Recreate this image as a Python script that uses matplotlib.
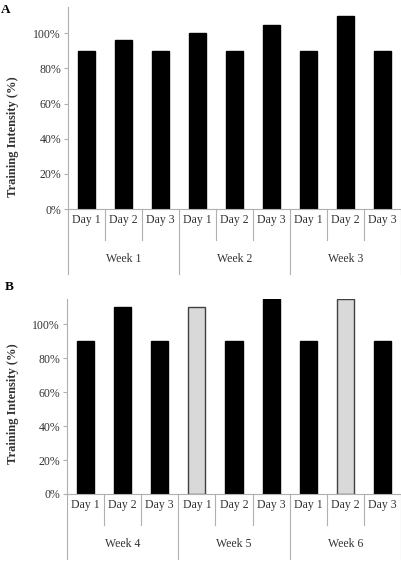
import numpy as np
import matplotlib
matplotlib.use('Agg')
import matplotlib.pyplot as plt

plt.rcParams['font.family'] = ['Liberation Serif', 'DejaVu Serif']

days = ['Day 1', 'Day 2', 'Day 3']
weeks_a = ['Week 1', 'Week 2', 'Week 3']
weeks_b = ['Week 4', 'Week 5', 'Week 6']
intensity_a = [90, 96, 90, 100, 90, 105, 90, 110, 90]
intensity_b = [90, 110, 90, 110, 90, 115, 90, 115, 90]
# days marked with light gray bars in panel B
highlight_b = [False, False, False, True, False, False, False, True, False]

W, H = 402, 566
fig = plt.figure(figsize=(W / 100, H / 100), dpi=100)
axis_gray = '#b0b0b0'
txt = '#333333'
fs = 8.5


def make_panel(left, zero_y, top_y, values, weeks, highlight, letter, letter_xy, label_y):
    width_px = W - 1 - left
    hpx = zero_y - top_y
    ax = fig.add_axes([left / W, 1 - zero_y / H, width_px / W, hpx / H])
    x = np.arange(len(values))
    colors = ['#d9d9d9' if h else 'black' for h in highlight]
    edges = ['#404040' if h else 'black' for h in highlight]
    ax.bar(x, values, width=0.46, color=colors, edgecolor=edges, linewidth=1.0)
    ax.set_xlim(-0.5, len(values) - 0.5)
    ax.set_ylim(0, 115)
    ax.set_yticks(range(0, 101, 20))
    ax.set_yticklabels([f'{v}%' for v in range(0, 101, 20)], fontsize=fs, color=txt)
    ax.tick_params(axis='y', length=3, width=0.8, color=axis_gray, pad=2)
    ax.set_xticks([])
    for s in ['top', 'right']:
        ax.spines[s].set_visible(False)
    for s in ['left', 'bottom']:
        ax.spines[s].set_color(axis_gray)
        ax.spines[s].set_linewidth(0.8)
    ax.set_ylabel('Training Intensity (%)', fontsize=9, fontweight='bold', color=txt)
    ax.yaxis.set_label_coords((19 - left) / width_px, (zero_y - label_y) / hpx)

    # two-level category axis drawn below the plot area
    tr = ax.get_xaxis_transform()
    day_end = -31 / hpx
    week_end = -65 / hpx
    for k in range(len(values) + 1):
        b = k - 0.5
        y_end = week_end if k % 3 == 0 else day_end
        ax.plot([b, b], [0, y_end], transform=tr, color=axis_gray, lw=0.8, clip_on=False)
    for i in x:
        ax.text(i, -11 / hpx, days[i % 3], transform=tr, ha='center', va='center',
                fontsize=fs, color=txt)
    for j, wk in enumerate(weeks):
        ax.text(3 * j + 1, -50 / hpx, wk, transform=tr, ha='center', va='center',
                fontsize=fs, color=txt)
    fig.text(letter_xy[0] / W, 1 - letter_xy[1] / H, letter, fontsize=9.5, fontweight='bold',
             ha='left', va='center')
    return ax


make_panel(68, 209, 7, intensity_a, weeks_a, [False] * 9, 'A', (1, 10), 137)
make_panel(67, 494, 299, intensity_b, weeks_b, highlight_b, 'B', (5, 287), 404)

fig.savefig('out.png', dpi=100)
